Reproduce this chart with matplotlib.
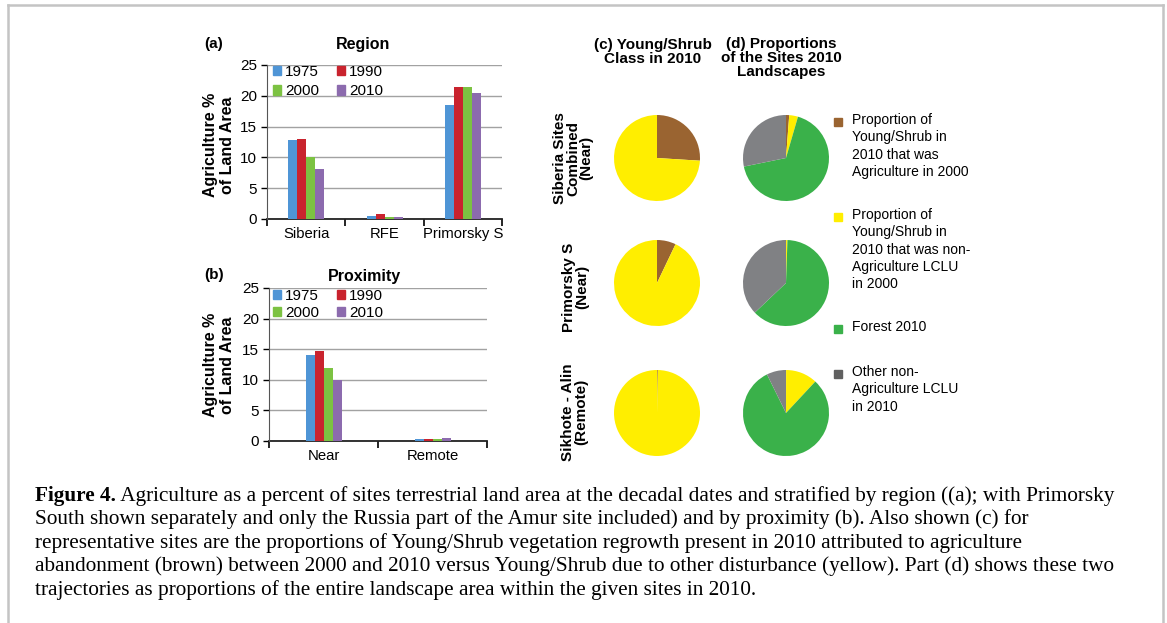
import matplotlib
matplotlib.use("Agg")
import matplotlib.pyplot as plt
from matplotlib.patches import Rectangle
from matplotlib.lines import Line2D
import numpy as np

# ---------------- data ----------------
years = ["1975", "1990", "2000", "2010"]
region_cats = ["Siberia", "RFE", "Primorsky S"]
region_vals = {
    "1975": [12.8, 0.5, 18.5],
    "1990": [13.0, 0.8, 21.5],
    "2000": [10.1, 0.35, 21.5],
    "2010": [8.1, 0.35, 20.5],
}
prox_cats = ["Near", "Remote"]
prox_vals = {
    "1975": [14.0, 0.35],
    "1990": [14.7, 0.35],
    "2000": [11.9, 0.35],
    "2010": [10.0, 0.5],
}
yticks = [0, 5, 10, 15, 20, 25]

site_labels = ["Siberia Sites\nCombined\n(Near)", "Primorsky S\n(Near)", "Sikhote - Alin\n(Remote)"]
# (c) Young/Shrub class in 2010: [agriculture in 2000, non-agriculture in 2000]
young_shrub = [[26.0, 74.0], [7.1, 92.9], [0.3, 99.7]]
# (d) landscape proportions: [ys from agri, ys from non-agri, forest, other]
landscape = [[1.2, 3.3, 67.3, 28.2], [0.04, 0.5, 62.4, 37.1], [0.04, 11.9, 80.8, 7.3]]
legend_labels = [
    "Proportion of\nYoung/Shrub in\n2010 that was\nAgriculture in 2000",
    "Proportion of\nYoung/Shrub in\n2010 that was non-\nAgriculture LCLU\nin 2000",
    "Forest 2010",
    "Other non-\nAgriculture LCLU\nin 2010",
]

bar_colors = ["#4F95D6", "#C9232E", "#7CC242", "#8C6BAE"]
pie_colors = ["#9A6431", "#FFEE00", "#3AB14A", "#808184"]
legend_sq_colors = ["#9A6431", "#FFEE00", "#3AB14A", "#606060"]

caption_bold = "Figure 4."
caption_lines = [
    " Agriculture as a percent of sites terrestrial land area at the decadal dates and stratified by region ((a); with Primorsky",
    "South shown separately and only the Russia part of the Amur site included) and by proximity (b). Also shown (c) for",
    "representative sites are the proportions of Young/Shrub vegetation regrowth present in 2010 attributed to agriculture",
    "abandonment (brown) between 2000 and 2010 versus Young/Shrub due to other disturbance (yellow). Part (d) shows these two",
    "trajectories as proportions of the entire landscape area within the given sites in 2010.",
]

# ---------------- figure ----------------
W, H = 1167, 623
fig = plt.figure(figsize=(W / 100, H / 100), dpi=100)
fig.patch.set_facecolor("white")
SANS = ["Liberation Sans", "DejaVu Sans"]
plt.rcParams["font.family"] = SANS


def fx(x):
    return x / W


def fy(y):
    return 1 - y / H


def rect(x0, y0, x1, y1):
    return [fx(x0), fy(y1), (x1 - x0) / W, (y1 - y0) / H]


# frame
frame_c = "#C4C4C4"
fig.add_artist(Line2D([fx(8), fx(8)], [fy(5), fy(623)], color=frame_c, lw=1.8, transform=fig.transFigure))
fig.add_artist(Line2D([fx(1163), fx(1163)], [fy(5), fy(623)], color=frame_c, lw=1.8, transform=fig.transFigure))
fig.add_artist(Line2D([fx(8), fx(1163)], [fy(5), fy(5)], color=frame_c, lw=1.8, transform=fig.transFigure))

TICK_FS = 11


def bar_panel(box, cats, vals, letter, title, title_x, title_y, letter_y, ylab_y, leg_y, leg_sp):
    ax = fig.add_axes(rect(*box))
    n = len(cats)
    x = np.arange(n)
    cat_px = (box[2] - box[0]) / n
    bw = 9.0 / cat_px
    for i, yr in enumerate(years):
        ax.bar(x + (i - 1.5) * bw, vals[yr], width=bw, color=bar_colors[i], label=yr, zorder=3)
    ax.set_xlim(-0.5, n - 0.5)
    ax.set_ylim(0, 25)
    ax.set_yticks(yticks)
    ax.set_yticklabels([str(t) for t in yticks], fontsize=TICK_FS)
    ax.yaxis.grid(True, color="#A2A2A2", lw=1.0, zorder=0)
    ax.set_xticks(x)
    ax.set_xticklabels(cats, fontsize=10.7)
    ax.tick_params(axis="x", length=0, pad=6)
    ax.set_xticks(np.arange(n + 1) - 0.5, minor=True)
    ax.tick_params(axis="x", which="minor", length=5, direction="out", width=1.2)
    ax.tick_params(axis="y", length=4, direction="out", width=1.0, pad=3)
    for s in ["top", "right"]:
        ax.spines[s].set_visible(False)
    ax.spines["left"].set_color("#555555")
    ax.spines["bottom"].set_color("#222222")
    ax.spines["bottom"].set_linewidth(1.3)
    ax.spines["bottom"].set_zorder(2)
    fig.text(fx(204), fy(letter_y), letter, fontsize=11, fontweight="bold", ha="left", va="center")
    fig.text(fx(title_x), fy(title_y), title, fontsize=11.5, fontweight="bold", ha="center", va="center")
    fig.text(fx(219), fy(ylab_y), "Agriculture %\nof Land Area", fontsize=11.5, fontweight="bold",
             rotation=90, ha="center", va="center", linespacing=1.2)
    order = [0, 2, 1, 3]
    handles = [Rectangle((0, 0), 1, 1, color=bar_colors[i]) for i in order]
    labels = [years[i] for i in order]
    ax.legend(handles, labels, ncol=2, loc="upper left", bbox_to_anchor=(fx(273), fy(leg_y)),
              bbox_transform=fig.transFigure, frameon=False, fontsize=11, handlelength=0.55,
              handleheight=0.55, handletextpad=0.25, columnspacing=1.15, labelspacing=leg_sp,
              borderpad=0, borderaxespad=0)
    return ax


bar_panel((267, 65, 502, 219), region_cats, region_vals, "(a)", "Region", 363, 44, 44, 145, 65, 0.35)
bar_panel((269, 288, 487, 441), prox_cats, prox_vals, "(b)", "Proximity", 364, 276, 275, 365, 289, 0.2)

# ---------------- pies ----------------
R = 43
cy_list = [158, 283, 413]
cx_c, cx_d = 657, 786
for k in range(3):
    cy = cy_list[k]
    axc = fig.add_axes(rect(cx_c - R, cy - R, cx_c + R, cy + R))
    axc.pie(young_shrub[k], colors=pie_colors[:2], startangle=90, counterclock=False, radius=1,
            wedgeprops=dict(linewidth=0))
    axc.set_xlim(-1, 1)
    axc.set_ylim(-1, 1)
    axc.axis("off")
    axd = fig.add_axes(rect(cx_d - R, cy - R, cx_d + R, cy + R))
    axd.pie(landscape[k], colors=pie_colors, startangle=90, counterclock=False, radius=1,
            wedgeprops=dict(linewidth=0))
    axd.set_xlim(-1, 1)
    axd.set_ylim(-1, 1)
    axd.axis("off")

row_label_x = [573, 576, 575]
row_label_y = [158, 287, 412]
for k in range(3):
    fig.text(fx(row_label_x[k]), fy(row_label_y[k]), site_labels[k], fontsize=11, fontweight="bold",
             rotation=90, ha="center", va="center", linespacing=0.95, multialignment="center")

fig.text(fx(653), fy(52), "(c) Young/Shrub\nClass in 2010", fontsize=11, fontweight="bold",
         ha="center", va="center", linespacing=1.05)
fig.text(fx(781), fy(58), "(d) Proportions\nof the Sites 2010\nLandscapes", fontsize=11, fontweight="bold",
         ha="center", va="center", linespacing=1.0)

# legend for (d)
leg_y = [122, 217, 329, 374]
for k in range(4):
    fig.add_artist(Rectangle((fx(834), fy(leg_y[k] + 4)), 8 / W, 8 / H, color=legend_sq_colors[k],
                             transform=fig.transFigure))
    fig.text(fx(852), fy(leg_y[k] - 9), legend_labels[k], fontsize=10, ha="left", va="top",
             linespacing=1.3)

# ---------------- caption ----------------
SERIF = ["Liberation Serif", "DejaVu Serif"]
renderer = fig.canvas.get_renderer()
probe = fig.text(0, 0, caption_lines[3], fontsize=10, family=SERIF)
pw = probe.get_window_extent(renderer=renderer).width
probe.remove()
cap_fs = 10 * 1117.0 / pw * 0.965
line_y = [496, 519.5, 543, 566.5, 590]
tb = fig.text(fx(35), fy(line_y[0]), caption_bold, fontsize=cap_fs, fontweight="bold",
              family=SERIF, ha="left", va="center")
bw_px = tb.get_window_extent(renderer=renderer).width
fig.text(fx(35 + bw_px), fy(line_y[0]), caption_lines[0], fontsize=cap_fs, family=SERIF,
         ha="left", va="center")
for i in range(1, 5):
    fig.text(fx(35), fy(line_y[i]), caption_lines[i], fontsize=cap_fs, family=SERIF,
             ha="left", va="center")

fig.savefig("out.png", dpi=100)
